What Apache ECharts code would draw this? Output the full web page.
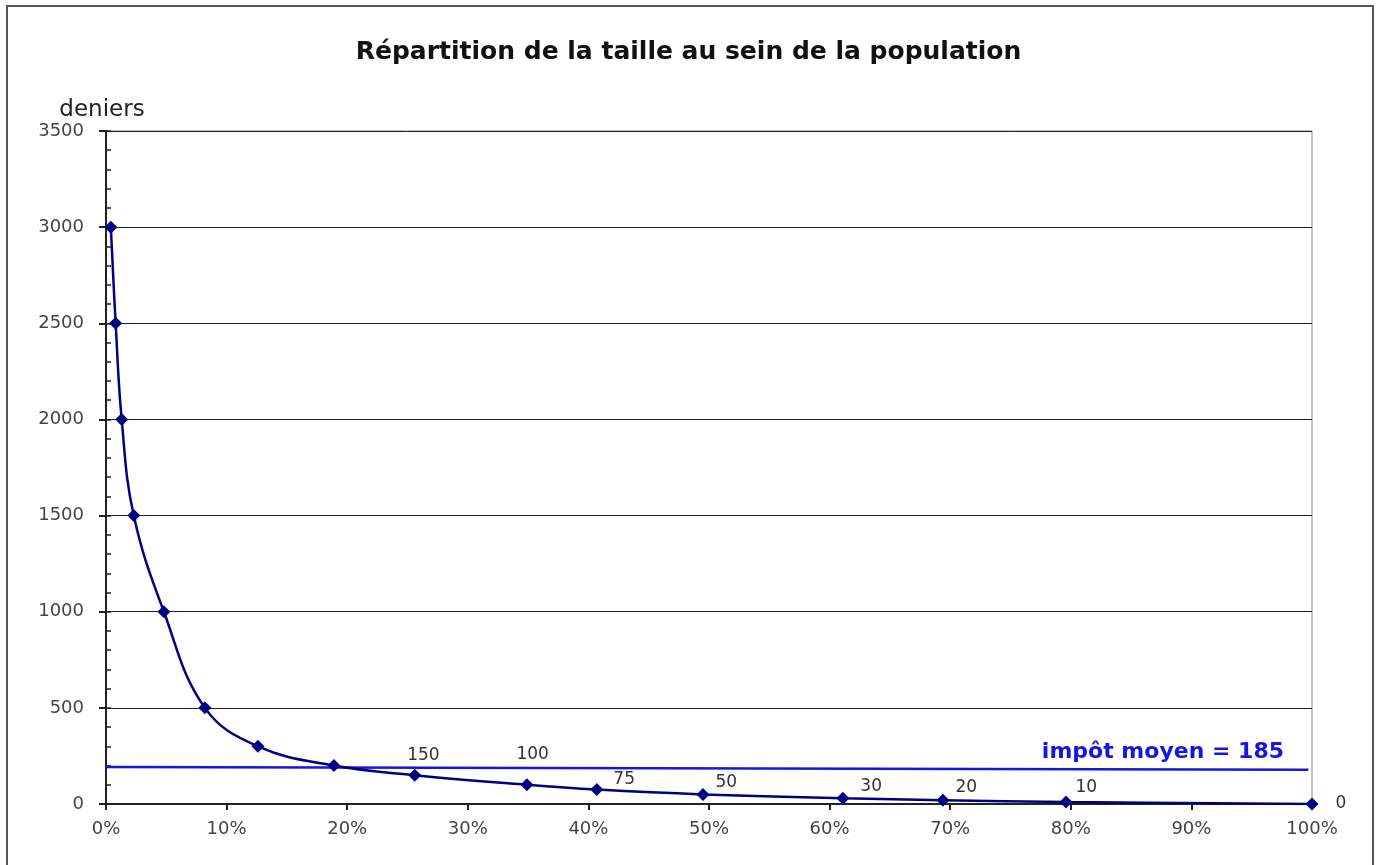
<!DOCTYPE html>
<html>
<head>
<meta charset="utf-8">
<script src="https://cdn.jsdelivr.net/npm/echarts@6/dist/echarts.min.js"></script>
<style>
  html, body { margin: 0; padding: 0; background: #fff; }
  #frame { position: absolute; left: 6px; top: 5px; width: 1368px; height: 870px; border: 2px solid #555; box-sizing: border-box; }
  #chart { position: absolute; left: 0; top: 0; width: 1377px; height: 865px; }
</style>
</head>
<body>
<div id="frame"></div>
<div id="chart"></div>
<script>
// part de la population (%) et taille (deniers)
const popShare = [0.4, 0.8, 1.3, 2.3, 4.8, 8.2, 12.6, 18.9, 25.6, 34.9, 40.7, 49.5, 61.1, 69.4, 79.6, 100];
const taille   = [3000, 2500, 2000, 1500, 1000, 500, 300, 200, 150, 100, 75, 50, 30, 20, 10, 0];
// valeurs étiquetées sur la courbe
const labelled = [150, 100, 75, 50, 30, 20, 10, 0];
// ligne de l'impôt moyen (tracée un peu en pente comme dans l'original)
const meanX = [0, 99.7];
const meanY = [192, 178];
const meanText = 'impôt moyen = 185';

// décalage des étiquettes (style)
const labelOffsets = { 150: [-19, -20], 100: [-22, -30], 75: [5, -10], 50: [1, -12], 30: [6, -12], 20: [1, -13], 10: [-2, -14], 0: [12, 0] };

const font = '"DejaVu Sans", Verdana, sans-serif';

const curve = popShare.map((x, i) => {
  const v = taille[i];
  const pt = { value: [x, v] };
  if (labelled.includes(v)) {
    pt.label = { show: true, position: 'right', distance: 5, offset: labelOffsets[v], formatter: String(v) };
  }
  return pt;
});

const chart = echarts.init(document.getElementById('chart'));
chart.setOption({
  animation: false,
  backgroundColor: 'transparent',
  title: {
    text: 'Répartition de la taille au sein de la population',
    left: 'center', top: 35,
    textStyle: { fontFamily: font, fontSize: 25, fontWeight: 'bold', color: '#111' }
  },
  grid: { left: 106, right: 65, top: 131, bottom: 61, show: true, borderColor: '#888', borderWidth: 1 },
  xAxis: {
    type: 'value', min: 0, max: 100, interval: 10,
    axisLine: { lineStyle: { color: '#222', width: 2 } },
    axisTick: { show: true, length: 6, lineStyle: { color: '#222', width: 2 } },
    axisLabel: { formatter: '{value}%', fontFamily: font, fontSize: 18, color: '#444', margin: 16 },
    splitLine: { show: false }
  },
  yAxis: [{
    type: 'value', min: 0, max: 3500, interval: 500,
    name: 'deniers', nameLocation: 'end', nameGap: 9,
    nameTextStyle: { fontFamily: font, fontSize: 23, color: '#222', padding: [0, 0, 0, -8] },
    axisLine: { show: true, lineStyle: { color: '#222', width: 2 } },
    axisTick: { show: true, length: 7, lineStyle: { color: '#222', width: 2 } },
    axisLabel: { formatter: v => String(v), fontFamily: font, fontSize: 18, color: '#444', margin: 22 },
    splitLine: { show: true, lineStyle: { color: '#222', width: 1 } }
  }, {
    type: 'value', min: 0, max: 3500, interval: 100, position: 'left',
    axisLine: { show: false },
    axisTick: { show: true, inside: true, length: 5, lineStyle: { color: '#222', width: 1.5 } },
    axisLabel: { show: false },
    splitLine: { show: false }
  }],
  series: [{
    type: 'line',
    data: meanX.map((x, i) => [x, meanY[i]]),
    symbol: 'none',
    lineStyle: { color: '#1515e6', width: 2.5 },
    z: 2
  }, {
    type: 'line',
    data: curve,
    smooth: 0.4,
    symbol: 'diamond',
    symbolSize: 13,
    itemStyle: { color: '#000080' },
    lineStyle: { color: '#000080', width: 2.5 },
    label: { fontFamily: font, fontSize: 17, color: '#333' },
    z: 3
  }],
  graphic: [{
    type: 'text',
    right: 1377 - 1284, top: 741,
    style: { text: meanText, fontFamily: font, fontSize: 22, fontWeight: 'bold', fill: '#1515e6' }
  }]
});
</script>
</body>
</html>
